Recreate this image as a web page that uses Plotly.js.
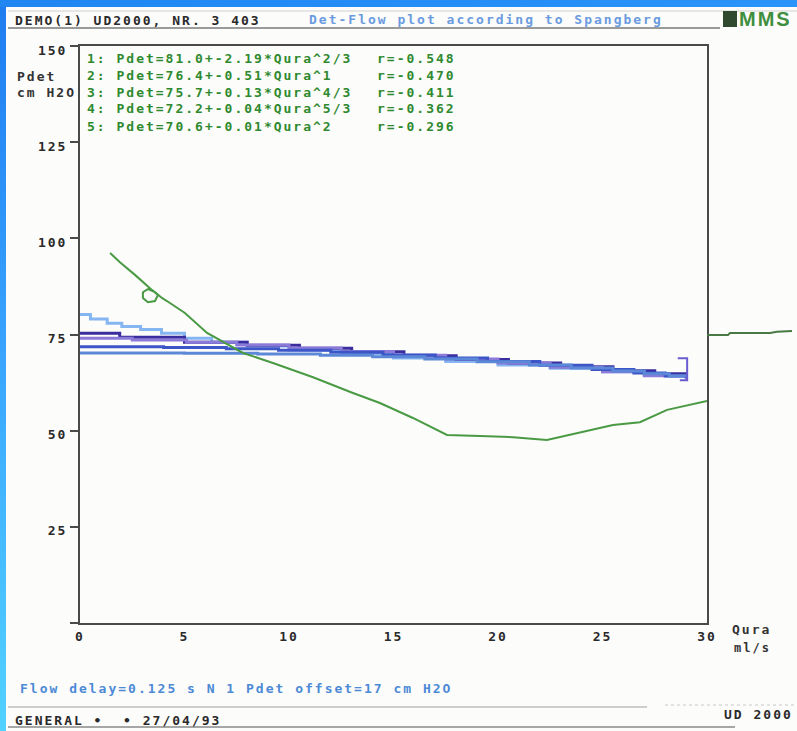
<!DOCTYPE html>
<html><head><meta charset="utf-8">
<script src="https://cdn.plot.ly/plotly-3.0.1.min.js"></script>
<style>
html,body{margin:0;padding:0;background:#fcfcfb;}
#wrap{position:relative;width:797px;height:731px;background:#fcfcfb;overflow:hidden;}
#left{position:absolute;left:0;top:0;width:6px;height:731px;background:linear-gradient(#1f7cf0,#3aa6ff 50%,#52d2ff);}
#top{position:absolute;left:0;top:0;width:797px;height:7px;background:linear-gradient(90deg,#1f86f2,#2a94fa);}
#chart{position:absolute;left:0;top:0;width:797px;height:731px;}
.annotation-text, .xtick text, .ytick text{letter-spacing:2px;}
</style></head>
<body><div id="wrap"><div id="chart"></div><div id="left"></div><div id="top"></div></div>
<script>
// ---- data ----
const xTickVals = [0, 5, 10, 15, 20, 25, 30];
const xTickText = ['0', '5', '10', '15', '20', '25', '30'];
const yTickVals = [0, 25, 50, 75, 100, 125, 150];
const yTickText = ['', '25', '50', '75', '100', '125', '150'];

// measured Pdet vs Qura (green)
const greenX = [1.44, 1.91, 2.63, 3.11, 3.44, 3.73, 3.59, 3.25, 3.01, 3.01, 3.25, 3.59, 3.92, 4.16, 5.02, 6.08, 6.94, 7.80, 9.23, 11.15, 13.06, 14.35, 15.93, 17.56, 19.14, 20.72, 22.34, 23.92, 25.50, 26.79, 28.09, 30.0];
const greenY = [96.2, 93.8, 90.5, 88.1, 86.6, 85.3, 83.7, 83.4, 84.5, 86.0, 86.8, 86.0, 84.5, 83.7, 80.6, 75.4, 72.8, 70.2, 67.6, 63.9, 59.8, 57.2, 53.3, 48.9, 48.6, 48.3, 47.6, 49.6, 51.5, 52.2, 55.4, 57.7];
// continuation of the green trace right of the frame
const tailX = [0, 21, 23, 63, 70, 85];
const tailY = [74.9, 74.9, 75.4, 75.4, 75.7, 75.9];

// fitted curves 1..5 (stepped)
const fit1X = [0, 0.5, 1.3, 2.0, 2.9, 3.9, 5.0, 6.3, 8.0, 10.0, 12.5, 15.0, 17.5, 20.0, 22.5, 25.0, 27.0, 29.0];
const fit1Y = [80.2, 79.0, 77.9, 77.1, 76.3, 75.3, 74.0, 73.0, 72.0, 71.0, 70.0, 68.9, 68.0, 67.1, 66.2, 65.3, 64.6, 64.0];
const fit2X = [0, 1.9, 5.0, 8.0, 10.5, 13.0, 15.5, 18.0, 20.5, 23.0, 25.5, 27.5, 29.0];
const fit2Y = [75.3, 74.3, 73.0, 72.2, 71.4, 70.5, 69.5, 68.5, 67.6, 66.6, 65.6, 64.8, 64.2];
const fit3X = [0, 2.5, 5.1, 7.5, 10.0, 12.5, 15.0, 17.5, 20.0, 22.5, 25.0, 27.0, 29.0];
const fit3Y = [74.0, 73.6, 73.0, 72.3, 71.5, 70.6, 69.6, 68.6, 67.6, 66.5, 65.3, 64.3, 63.3];
const fit4X = [0, 4.0, 7.0, 9.5, 12.0, 14.5, 17.0, 19.5, 22.0, 24.5, 26.5, 28.0, 29.0];
const fit4Y = [71.8, 71.6, 71.3, 70.9, 70.4, 69.7, 68.9, 68.0, 67.0, 65.9, 65.0, 64.2, 63.7];
const fit5X = [0, 5.0, 8.5, 11.5, 14.0, 16.5, 19.0, 21.5, 23.5, 25.5, 27.0, 28.2, 29.0];
const fit5Y = [70.2, 70.1, 69.9, 69.6, 69.2, 68.6, 67.9, 67.1, 66.3, 65.5, 64.8, 64.2, 63.8];
const endBarX = [28.6, 29.05, 29.05, 28.7];
const endBarY = [68.8, 68.8, 63.1, 63.1];

const fitEquations = [
  '1: Pdet=81.0+-2.19*Qura^2/3',
  '2: Pdet=76.4+-0.51*Qura^1',
  '3: Pdet=75.7+-0.13*Qura^4/3',
  '4: Pdet=72.2+-0.04*Qura^5/3',
  '5: Pdet=70.6+-0.01*Qura^2'
];
const fitR = ['r=-0.548', 'r=-0.470', 'r=-0.411', 'r=-0.362', 'r=-0.296'];
const fitColors = ['#86b6f2', '#3a2e9e', '#8b7ad8', '#3c56c8', '#5c88d8'];

// ---- layout helpers (pixel -> paper) ----
const L = 80, T = 46, B = 108, W = 797, H = 731;
const PW = W - L, PH = H - T - B;
const px = p => (p - L) / PW;
const py = p => (H - B - p) / PH;
const mono = (size, color) => ({family: 'DejaVu Sans Mono', size: size, color: color, weight: 'bold'});

const traces = [];
const fitsX = [fit1X, fit2X, fit3X, fit4X, fit5X];
const fitsY = [fit1Y, fit2Y, fit3Y, fit4Y, fit5Y];
for (let i = 0; i < 5; i++) {
  traces.push({x: fitsX[i], y: fitsY[i], type: 'scatter', mode: 'lines',
    line: {color: fitColors[i], width: 3, shape: 'hv'}, hoverinfo: 'skip'});
}
traces.push({x: endBarX, y: endBarY, type: 'scatter', mode: 'lines',
  line: {color: '#6a5ccf', width: 2}, hoverinfo: 'skip'});
traces.push({x: greenX, y: greenY, type: 'scatter', mode: 'lines',
  line: {color: '#4a9a44', width: 2}, hoverinfo: 'skip'});
traces.push({x: tailX, y: tailY, type: 'scatter', mode: 'lines', xaxis: 'x2', yaxis: 'y',
  line: {color: '#4a7a44', width: 2}, hoverinfo: 'skip'});

const ann = [];
function txt(t, x, y, font) {
  ann.push({text: t, xref: 'paper', yref: 'paper', x: px(x), y: py(y),
    xanchor: 'left', yanchor: 'middle', showarrow: false, font: font});
}
txt('DEMO(1) UD2000, NR. 3 403', 13, 21, mono(13, '#2a2a2a'));
txt('Det-Flow plot according to Spangberg', 307, 20, mono(13, '#6a9be0'));
txt('MMS', 737, 19, {family: 'Liberation Sans', size: 20, color: '#3f8f3f', weight: 'bold'});
txt('Pdet', 15, 76, mono(13, '#333'));
txt('cm H2O', 15, 92, mono(13, '#333'));
const eqY = [58, 75, 92, 109, 126];
for (let i = 0; i < 5; i++) {
  txt(fitEquations[i], 85, eqY[i], mono(13, '#2f8a2f'));
  txt(fitR[i], 375, eqY[i], mono(13, '#2f8a2f'));
}
txt('Qura', 730, 630, mono(13, '#333'));
txt('ml/s', 732, 648, mono(12, '#333'));
txt('Flow delay=0.125 s N 1 Pdet offset=17 cm H2O', 18, 688, mono(13, '#4d8ad6'));
txt('GENERAL \u2022  \u2022 27/04/93', 13, 721, mono(13, '#2a2a2a'));
txt('UD 2000', 722, 714, mono(13, '#2a2a2a'));

const shp = [];
function hline(x0, x1, y, color, w, dash) {
  shp.push({type: 'line', xref: 'paper', yref: 'paper', x0: px(x0), x1: px(x1), y0: py(y), y1: py(y),
    line: {color: color, width: w, dash: dash || 'solid'}});
}
hline(8, 797, 11, '#d0d0d0', 1);
hline(8, 720, 28, '#7a7a7a', 1.5);
hline(8, 647, 707, '#a0a0a0', 1);
hline(665, 797, 705, '#c8c8c8', 1, 'dot');
hline(8, 735, 727, '#8a8a8a', 1.5);
shp.push({type: 'rect', xref: 'paper', yref: 'paper', x0: px(723), x1: px(737), y0: py(27), y1: py(11),
  fillcolor: '#2f4a2f', line: {width: 0}});

const xd = 627 / PW;
const layout = {
  width: W, height: H,
  margin: {l: L, r: 0, t: T, b: B, pad: 0},
  paper_bgcolor: 'rgba(0,0,0,0)', plot_bgcolor: 'rgba(0,0,0,0)',
  showlegend: false,
  xaxis: {domain: [0, xd], range: [0, 30], tickvals: xTickVals, ticktext: xTickText,
    showline: true, mirror: true, linecolor: '#4a4a4a', linewidth: 2, ticks: '',
    showgrid: false, zeroline: false, tickfont: mono(13, '#2a2a2a'), fixedrange: true},
  xaxis2: {domain: [xd, 1], range: [0, 90], anchor: 'y', visible: false, fixedrange: true},
  yaxis: {range: [0, 150], tickvals: yTickVals, ticktext: yTickText,
    showline: true, mirror: true, linecolor: '#4a4a4a', linewidth: 2,
    ticks: 'outside', ticklen: 8, tickwidth: 2, tickcolor: '#4a4a4a',
    ticklabelshift: 4, ticklabelstandoff: 0,
    showgrid: false, zeroline: false, tickfont: mono(13, '#2a2a2a'), fixedrange: true},
  annotations: ann,
  shapes: shp
};
Plotly.newPlot('chart', traces, layout, {displayModeBar: false, staticPlot: true});
</script>
</body></html>
